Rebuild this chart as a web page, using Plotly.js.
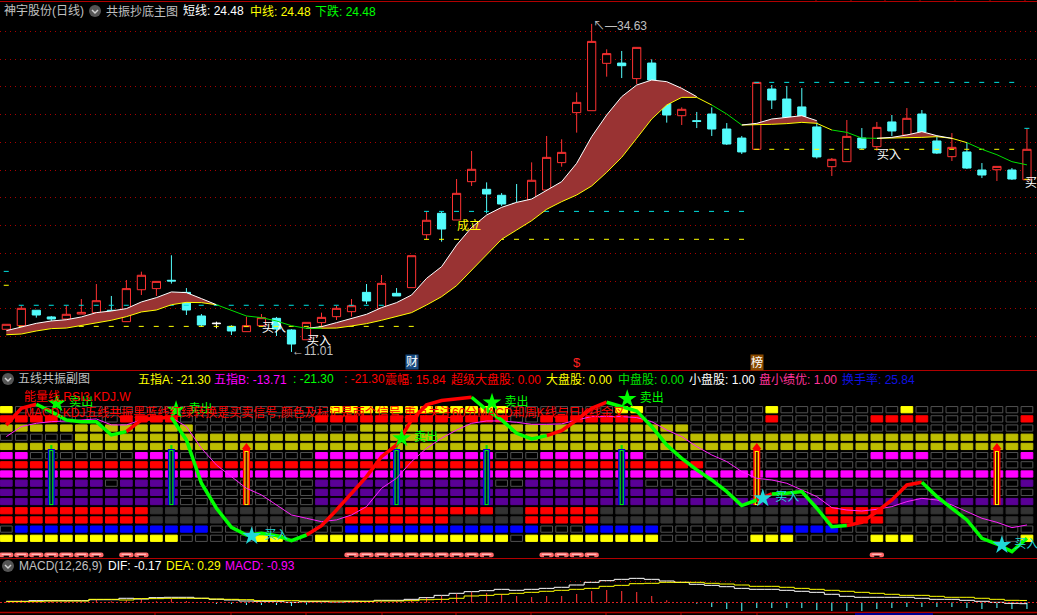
<!DOCTYPE html>
<html><head><meta charset="utf-8">
<script src="https://cdn.plot.ly/plotly-3.0.1.min.js"></script>
<style>html,body{margin:0;padding:0;background:#000;overflow:hidden}</style>
</head><body><div id="chart" style="width:1037px;height:615px"></div>
<script>
// ---- candles ----
const open=[12.64,12.90,14.01,13.53,13.38,13.74,13.84,14.01,13.19,15.49,15.57,16.17,15.30,13.60,13.09,12.85,12.47,12.90,13.43,12.59,11.89,13.12,13.55,13.91,15.30,14.15,15.23,15.64,19.45,20.99,20.51,23.27,22.72,22.29,21.71,21.95,22.67,24.64,28.24,28.38,31.79,31.81,30.69,31.81,28.91,28.02,27.66,28.14,27.06,26.41,25.60,29.94,29.22,28.65,27.21,24.35,24.71,26.41,25.79,27.57,26.63,28.14,26.20,25.07,25.41,24.11,24.13,24.11,23.41];
const high=[13.00,14.34,14.01,13.60,14.32,14.82,15.90,15.04,16.19,16.79,16.09,17.97,15.61,13.74,13.19,12.93,13.55,13.74,13.53,12.64,13.14,13.84,14.32,14.82,15.90,16.55,15.61,17.94,21.13,21.13,23.46,25.48,23.22,22.45,23.10,24.66,26.56,26.32,29.70,34.63,32.80,32.68,32.94,32.08,29.15,28.62,28.29,28.62,27.49,26.56,30.42,30.23,30.16,30.01,27.59,24.97,27.71,27.13,27.57,28.07,28.57,28.43,26.56,26.77,26.08,24.61,24.37,24.25,27.11];
const low=[12.64,12.90,13.48,13.21,13.29,13.74,13.84,13.60,13.19,15.11,15.04,15.93,13.67,12.83,12.71,12.23,12.47,12.90,12.16,11.01,11.89,12.88,13.31,13.55,14.46,14.15,15.04,15.64,19.12,18.95,20.51,22.96,20.99,21.52,20.27,21.95,22.67,24.35,26.80,28.38,30.83,30.73,30.30,30.35,27.52,27.35,27.13,26.56,25.91,25.26,25.60,28.50,27.90,27.95,24.93,23.68,24.71,25.62,25.50,26.56,26.63,26.85,25.26,24.76,24.18,23.53,23.32,23.39,23.41];
const close=[13.00,14.15,13.67,13.38,13.72,13.86,14.70,13.91,15.57,16.53,16.09,16.12,14.03,12.95,13.05,12.52,12.90,13.48,12.66,11.58,13.14,13.50,14.15,14.34,14.68,15.95,15.04,17.94,20.49,19.86,22.43,24.16,22.38,21.66,20.51,23.37,25.02,25.38,28.98,33.37,32.49,31.62,32.94,30.59,28.07,28.48,27.61,27.06,25.98,25.41,30.42,29.15,27.90,27.95,25.05,24.88,26.53,25.69,27.18,26.92,27.83,26.85,25.33,25.74,24.25,23.75,24.37,23.46,25.60];
const whiteCandles=[14];

// ---- main indicator lines ----
const shortLine=[12.54,12.83,13.07,13.24,13.33,13.53,13.84,13.96,14.13,14.61,14.92,15.33,15.28,14.85,14.41,13.98,13.60,13.48,13.24,12.90,12.71,12.83,13.12,13.43,13.72,14.20,14.56,15.11,16.31,17.15,18.71,19.98,20.87,21.42,21.78,22.02,22.67,23.27,24.59,26.51,28.07,29.39,30.23,30.59,30.47,29.99,29.39,28.79,28.14,27.35,27.47,27.78,27.88,28.02,27.66,26.99,26.82,26.41,26.39,26.46,26.63,26.87,26.58,26.39,26.08,25.60,25.21,24.71,24.48];
const midLine=[12.25,12.30,12.52,12.69,12.73,12.90,13.12,13.29,13.55,13.89,14.03,14.41,14.58,14.56,14.41,13.98,13.60,13.48,13.24,12.90,12.71,12.71,12.73,12.88,13.05,13.29,13.55,13.84,14.39,14.99,15.78,16.91,17.99,19.12,19.79,20.46,21.28,21.83,22.31,22.96,23.94,25.02,26.39,27.78,28.79,29.34,29.34,28.79,28.14,27.35,27.35,27.40,27.45,27.54,27.47,26.99,26.82,26.41,26.39,26.41,26.41,26.46,26.51,26.39,26.08,25.60,25.21,24.71,24.48];
const bandSegments=[[0,14],[20,46],[49,54],[58,63]];
const fallSegments=[[14,21],[47,49],[55,58],[64,68]];
const yellowSegments=[[46,47],[54,55],[63,64]];

const dashStart=[0,1,28,50,68];
const dashEnd=[0,27,49,67,68];
const dashCyan=[16.81,14.37,21.13,30.42,27.11];
const dashYellow=[15.81,12.85,19.12,25.60,23.44];
const mainGrid=[34.07,32.05,30.11,28.12,26.10,24.09,22.14,20.13,18.11,16.07,14.15,12.13];

// ---- five-line panel: rows, top to bottom, filled column ranges ----
const rowLevels=[15,14,13,12,11,10,9,8,7,6,5,4,3,2,1];
const rowColors=['#ffff00','#ff0000','#bdbd00','#bdbd00','#bdbd00','#ff00ff','#ff0000','#ff00ff','#5a0096','#5a0096','#5a0096','#ff0000','#ff0000','#0000ff','#ffff00'];
const rowOffColors=[null,null,null,null,null,null,null,null,null,null,null,'#333333','#333333',null,null];
const row1=[[0,0],[22,33],[41,42],[51,51],[60,60]];
const row2=[[0,3],[8,11],[21,33],[36,42],[51,51],[58,61],[68,68]];
const row3=[[0,12],[24,45]];
const row4=[[5,68]];
const row5=[[0,68]];
const row6=[[0,1],[9,11],[21,32],[36,42],[58,61],[68,68]];
const row7=[[0,46]];
const row8=[[0,68]];
const row9=[[0,6],[8,11],[21,32],[35,42],[68,68]];
const row10=[[0,11],[21,44],[55,58]];
const row11=[[0,11],[21,68]];
const row12=[[0,9],[23,32],[35,39],[55,58]];
const row13=[[0,9],[23,29],[35,39],[55,58]];
const row14=[[1,13],[23,35],[39,43],[52,55]];
const row15=[[0,11],[17,18],[21,33],[35,43],[50,52],[58,60],[68,68]];
const rows=[row1,row2,row3,row4,row5,row6,row7,row8,row9,row10,row11,row12,row13,row14,row15];

const energy=[13.33,15.15,15.59,14.79,13.88,13.70,13.70,12.25,12.61,13.88,14.06,14.17,11.70,6.99,4.27,2.20,1.36,1.54,1.29,0.74,1.36,2.38,4.08,5.90,7.71,9.89,11.16,13.88,15.52,15.99,16.17,16.35,14.97,13.88,12.43,11.81,12.18,12.72,13.88,15.15,15.81,15.33,14.86,13.16,11.16,9.71,8.44,7.35,6.08,4.56,5.17,5.83,5.90,6.08,4.27,2.27,2.38,2.74,3.90,5.17,6.81,7.10,5.54,4.27,3.00,1.00,0.38,-0.45,1.00];
const energyRed=[[0,2],[8,11],[20,31],[36,40],[50,51],[56,61]];
const energyGreen=[[2,8],[11,20],[31,36],[40,50],[51,56],[61,68]];
const slowLine=[12.07,13.16,13.52,13.70,13.77,13.88,13.99,13.34,13.34,13.88,14.06,14.14,13.16,10.80,8.98,7.71,6.44,5.72,4.63,3.54,3.18,2.81,3.00,3.54,4.45,6.44,7.53,9.35,10.80,11.89,12.79,13.52,13.77,13.77,13.63,13.41,13.41,13.45,13.88,14.25,14.25,14.25,14.14,13.70,12.79,12.07,10.98,10.07,9.35,8.26,7.53,7.35,6.99,6.26,5.54,4.34,4.08,3.97,4.16,4.45,4.99,5.35,5.17,4.63,3.90,3.18,2.74,2.16,2.45];
const sellX=[3.36,11.31,26.34,32.36,41.37];
const sellY=[15.70,14.97,11.89,15.77,16.17];
const buyX=[16.35,50.4,66.33];
const buyY=[1.25,5.35,0.27];
const buyPillars=[16,50,66];
const sellPillars=[3,11,26,32,41];
const arcColumns=[0,1,2,3,4,5,6,8,9,23,24,25,26,27,28,29,30,31,32,36,37,38,39,58];

// ---- MACD ----
const dif=[.17,.17,.26,.26,.26,.26,.40,.40,.60,.50,.69,.74,.74,.60,.45,.36,.21,.17,.17,.02,.12,.12,.07,.12,.17,.31,.31,.45,.69,1.02,1.31,1.55,1.69,1.88,1.74,1.88,2.02,2.17,2.50,2.88,3.12,3.31,3.45,3.31,3.07,2.88,2.60,2.45,2.26,2.02,1.88,1.88,1.74,1.60,1.45,1.17,.88,.74,.74,.74,.74,.60,.45,.45,.31,.17,.02,-.12,-.17];
const dea=[.12,.12,.12,.21,.21,.21,.45,.45,.36,.55,.55,.60,.60,.60,.50,.45,.40,.26,.26,.26,.21,.21,.21,.21,.17,.21,.21,.26,.40,.45,.60,.93,1.02,1.17,1.31,1.45,1.60,1.74,1.88,2.02,2.31,2.45,2.69,2.74,2.88,2.88,2.88,2.74,2.64,2.50,2.31,2.31,2.17,2.02,1.88,1.74,1.60,1.45,1.31,1.17,1.02,1.02,.88,.74,.74,.60,.45,.31,.29];
const macd=[.12,.31,.26,.31,.21,.17,.36,.17,.31,.45,.17,.50,.21,.02,-.21,-.21,-.36,-.36,-.36,-.50,-.31,-.12,-.02,-.02,.02,.17,.21,.50,.79,.93,1.26,1.50,1.36,1.21,.93,.79,.93,.93,1.21,1.64,1.79,1.64,1.50,.93,.31,.02,-.17,-.64,-.93,-1.21,-.79,-.79,-.79,-.79,-1.07,-1.21,-1.21,-1.21,-.93,-.79,-.64,-.64,-.64,-.64,-.79,-.93,-.79,-.93,-.93];

// ---- text ----
const headerText=['神宇股份(日线)','共振抄底主图','短线: 24.48','中线: 24.48','下跌: 24.48','五线共振副图','五指A: -21.30','五指B: -13.71',': -21.30',': -21.30','震幅: 15.84','超级大盘股: 0.00','大盘股: 0.00','中盘股: 0.00','小盘股: 1.00','盘小绩优: 1.00','换手率: 25.84','MACD(12,26,9)','DIF: -0.17','DEA: 0.29','MACD: -0.93'];
const headerX=[3,105,182,249,314,17,137,213,292,343,384,450,545,617,688,758,841,18,107,165,224];
const headerY=[11,11,11,11,11,379,379,379,379,379,379,379,379,379,379,379,379,566,566,566,566];
const headerColor=['#c0c0c0','#c0c0c0','#ffffff','#ffff00','#00ff00','#c0c0c0','#ffff00','#ff00ff','#00ff00','#ff0000','#ff0000','#ff0000','#ffff00','#00e000','#ffffff','#ff3399','#1010e0','#c0c0c0','#ffffff','#ffff00','#ff00ff'];

const idx=open.map((_,i)=>i);
const slice=(a,s)=>a.slice(s[0],s[1]+1);
const XP=p=>p/1037, YP=p=>1-p/615;
const traces=[];

// candles
const keep=idx.filter(i=>!whiteCandles.includes(i));
const pick=(a,l)=>l.map(i=>a[i]);
const mkCandle=(l,upC,upF,dnC,dnF)=>({type:'candlestick',x:l,open:pick(open,l),high:pick(high,l),low:pick(low,l),close:pick(close,l),yaxis:'y',
  increasing:{line:{color:upC,width:1},fillcolor:upF},decreasing:{line:{color:dnC,width:1},fillcolor:dnF},hoverinfo:'skip',showlegend:false});
traces.push(mkCandle(keep,'#ff3232','#000000','#54fcfc','#54fcfc'));
traces.push(mkCandle(whiteCandles,'#ffffff','#ffffff','#ffffff','#ffffff'));

// dashes
dashStart.forEach((s,k)=>{
  const e=dashEnd[k];
  [[dashCyan[k],'#00e0e0'],[dashYellow[k],'#ffff00']].forEach(d=>{
    traces.push({type:'scatter',mode:'lines',x:[s-0.17,e+0.17],y:[d[0],d[0]],yaxis:'y',line:{color:d[1],width:1,dash:'5px,10px'},hoverinfo:'skip',showlegend:false});
  });
});
// band
bandSegments.forEach(s=>{
  const x=slice(idx,s);
  traces.push({type:'scatter',mode:'lines',x,y:slice(midLine,s),yaxis:'y',line:{color:'#ffff00',width:1},hoverinfo:'skip',showlegend:false});
  traces.push({type:'scatter',mode:'lines',x,y:slice(shortLine,s),yaxis:'y',fill:'tonexty',fillcolor:'#993333',line:{color:'#ffffff',width:1},hoverinfo:'skip',showlegend:false});
});
fallSegments.forEach(s=>traces.push({type:'scatter',mode:'lines',x:slice(idx,s),y:slice(midLine,s),yaxis:'y',line:{color:'#00e000',width:1},hoverinfo:'skip',showlegend:false}));
yellowSegments.forEach(s=>traces.push({type:'scatter',mode:'lines',x:slice(idx,s),y:slice(midLine,s),yaxis:'y',line:{color:'#ffff00',width:1},hoverinfo:'skip',showlegend:false}));

// rows
rows.forEach((r,k)=>{
  const on=idx.map(i=>r.some(g=>i>=g[0]&&i<=g[1]));
  const off=rowOffColors[k];
  traces.push({type:'bar',x:idx,y:idx.map(()=>0.68),base:idx.map(()=>rowLevels[k]-0.34),width:0.78,yaxis:'y2',
    marker:{color:on.map(b=>b?rowColors[k]:(off||'#000000')),line:{width:1,color:on.map(b=>b?rowColors[k]:(off||'#505050'))}},hoverinfo:'skip',showlegend:false});
});
// pillars
const bar=(x,b,t,w,c,ya,extra)=>({type:'bar',x,y:x.map(()=>t-b),base:x.map(()=>b),width:w,yaxis:ya,marker:Object.assign({color:c,line:{width:0}},extra||{}),hoverinfo:'skip',showlegend:false});
traces.push(bar(sellPillars,10.72,11.15,0.14,'#00e000','y2'));
traces.push(bar(sellPillars,4.62,10.72,0.47,'#0000e0','y2'));
traces.push(bar(sellPillars,4.62,10.6,0.27,'#00ff00','y2'));
traces.push(bar(sellPillars,4.72,10.5,0.13,'#000040','y2'));
traces.push(bar(buyPillars,4.62,10.72,0.47,'#ff0000','y2'));
traces.push(bar(buyPillars,4.62,10.5,0.27,'#ffff00','y2'));
traces.push(bar(buyPillars,4.72,10.4,0.13,'#600000','y2'));
traces.push({type:'scatter',mode:'markers',x:buyPillars,y:buyPillars.map(()=>10.95),yaxis:'y2',marker:{symbol:'triangle-up',size:8,color:'#ff0000'},hoverinfo:'skip',showlegend:false});
// arcs
traces.push(bar(arcColumns,-1.05,-0.55,0.95,'#ff6a6a','y2',{cornerradius:3}));
traces.push(bar(arcColumns,-0.8,-0.68,0.62,'#ffd0d0','y2'));
traces.push(bar(arcColumns,-1.05,-0.9,0.35,'#000000','y2'));

// lines
traces.push({type:'scatter',mode:'lines',x:idx,y:slowLine,yaxis:'y2',line:{color:'#ff20ff',width:1},hoverinfo:'skip',showlegend:false});
energyRed.forEach(s=>traces.push({type:'scatter',mode:'lines',x:slice(idx,s),y:slice(energy,s),yaxis:'y2',line:{color:'#ff0000',width:3.5},hoverinfo:'skip',showlegend:false}));
energyGreen.forEach(s=>traces.push({type:'scatter',mode:'lines',x:slice(idx,s),y:slice(energy,s),yaxis:'y2',line:{color:'#00ff00',width:3.5},hoverinfo:'skip',showlegend:false}));
traces.push({type:'scatter',mode:'markers+text',x:sellX,y:sellY,yaxis:'y2',text:sellX.map(()=>' 卖出'),textposition:'middle right',textfont:{color:'#00ff00',size:12,family:'Noto Sans CJK SC'},marker:{symbol:'star',size:14,color:'#00ff00',line:{width:0}},hoverinfo:'skip',showlegend:false});
traces.push({type:'scatter',mode:'markers+text',x:buyX,y:buyY,yaxis:'y2',text:buyX.map(()=>' 买入'),textposition:'middle right',textfont:{color:'#20d8d8',size:12,family:'Noto Sans CJK SC'},marker:{symbol:'star',size:14,color:'#20d8d8',line:{width:0}},hoverinfo:'skip',showlegend:false});

// MACD
traces.push({type:'bar',x:idx,y:macd,width:0.07,yaxis:'y3',marker:{color:macd.map(v=>v>=0?'#ff3232':'#54fcfc'),line:{width:0}},hoverinfo:'skip',showlegend:false});
traces.push({type:'scatter',mode:'lines',x:idx,y:dif,yaxis:'y3',line:{color:'#ffffff',width:1,shape:'hvh'},hoverinfo:'skip',showlegend:false});
traces.push({type:'scatter',mode:'lines',x:idx,y:dea,yaxis:'y3',line:{color:'#ffff00',width:1,shape:'hvh'},hoverinfo:'skip',showlegend:false});

// annotations
const FONT='"Liberation Sans","Noto Sans CJK SC",sans-serif';
const note=(text,x,y,color,size,extra)=>Object.assign({text,xref:'paper',yref:'paper',x:XP(x),y:YP(y),xanchor:'left',yanchor:'middle',showarrow:false,font:{family:FONT,size:size||12,color},borderpad:0},extra||{});
const annotations=headerText.map((t,k)=>note(t,headerX[k],headerY[k],headerColor[k]));
annotations.push(note('↖—34.63',592,26,'#c0c0c0',12));
annotations.push(note('←11.01',291,351,'#c0c0c0',12));
annotations.push(note('买入',261,328,'#ffffff',12));
annotations.push(note('买入',306,341,'#ffffff',12));
annotations.push(note('买入',876,155,'#ffffff',12));
annotations.push(note('买',1024,183,'#ffffff',12));
annotations.push(note('成立',456,226,'#ffff00',12));
annotations.push(note('财',405,362,'#ffffff',12,{bgcolor:'#174a80'}));
annotations.push(note('$',572,362,'#ff2020',13));
annotations.push(note('榜',750,362,'#ffffff',12,{bgcolor:'#8a4a00'}));
annotations.push(note('能量线.RSI3.KDJ.W',23,397,'#ff0000',12));
annotations.push(note('MACD.KDJ五线共振黑蓝线红绿转换是买卖信号,颜色及标记是两个信号,重点关注60分MACD和周K线与日K线金叉',23,412,'#ff0000',12));

// frame shapes
const hline=(py,x0,x1,c,w)=>({type:'line',xref:'paper',yref:'paper',x0:XP(x0),x1:XP(x1),y0:YP(py),y1:YP(py),line:{color:c,width:w}});
const shapes=[hline(1.5,0,1037,'#b00000',1),hline(370.5,0,1037,'#b00000',1),hline(558.5,0,1037,'#b00000',1),hline(612.5,0,1037,'#b00000',1.5)];
[155,231,306,382,456,531,606,681,757].forEach(x=>shapes.push({type:'line',xref:'paper',yref:'paper',x0:XP(x),x1:XP(x),y0:YP(612),y1:YP(615),line:{color:'#b00000',width:1}}));
[816,851,885,920,955,990,1025].forEach(x=>shapes.push({type:'line',xref:'paper',yref:'paper',x0:XP(x),x1:XP(x),y0:YP(0),y1:YP(2),line:{color:'#b00000',width:1}}));
shapes.push({type:'rect',xref:'paper',yref:'paper',x0:XP(855),x1:XP(933),y0:YP(613),y1:YP(615),fillcolor:'#000090',line:{width:0}});
[[95,11],[8,379],[8,566]].forEach(c=>{
  shapes.push({type:'circle',xref:'paper',yref:'paper',x0:XP(c[0]-6),x1:XP(c[0]+6),y0:YP(c[1]-6),y1:YP(c[1]+6),fillcolor:'#555555',line:{width:0}});
  shapes.push({type:'path',xref:'paper',yref:'paper',path:`M${XP(c[0]-3)},${YP(c[1]-1)} L${XP(c[0])},${YP(c[1]+2)} L${XP(c[0]+3)},${YP(c[1]-1)}`,line:{color:'#d0d0d0',width:1.5}});
});
shapes.push({type:'line',xref:'paper',yref:'y3',x0:0,x1:1,y0:0,y1:0,line:{color:'#e02020',width:1,dash:'2px,2px'}});

const layout={
  width:1037,height:615,margin:{l:0,r:0,t:0,b:0},paper_bgcolor:'#000000',plot_bgcolor:'#000000',showlegend:false,
  barmode:'overlay',boxgap:0.22,
  xaxis:{range:[-0.42,68.67],anchor:'y3',showgrid:false,zeroline:false,showticklabels:false,ticks:'',showline:false,rangeslider:{visible:false},fixedrange:true},
  yaxis:{domain:[1-370/615,1],range:[9.71,36.35],tickvals:mainGrid,showticklabels:false,ticks:'',zeroline:false,showline:false,gridcolor:'#aa0000',griddash:'1px,4px',gridwidth:1,fixedrange:true},
  yaxis2:{domain:[1-558/615,1-370/615],range:[-1.145,19.32],showgrid:false,showticklabels:false,ticks:'',zeroline:false,showline:false,fixedrange:true},
  yaxis3:{domain:[1-612/615,1-558/615],range:[-1.36,6.36],tickvals:[3.03],showticklabels:false,ticks:'',zeroline:false,showline:false,gridcolor:'#aa0000',griddash:'1px,4px',gridwidth:1,fixedrange:true},
  annotations,shapes,hovermode:false
};
Plotly.newPlot('chart',traces,layout,{displayModeBar:false,staticPlot:true});
</script></body></html>
